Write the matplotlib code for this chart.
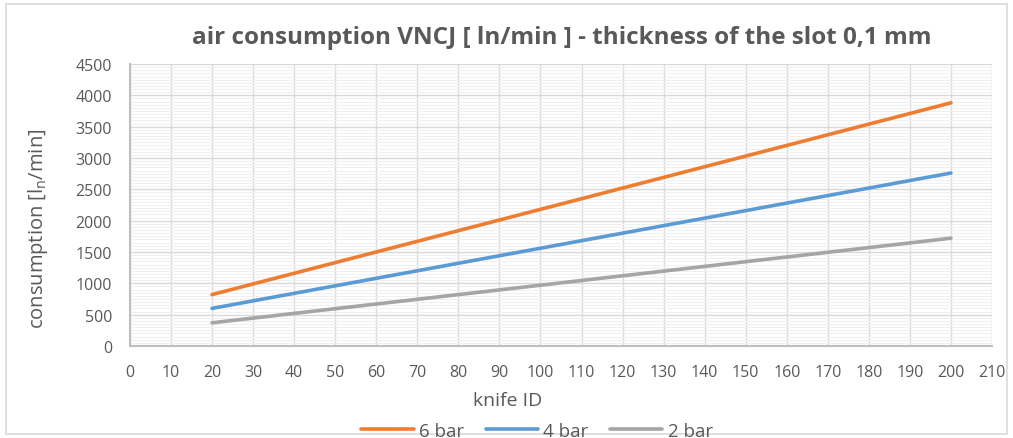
import matplotlib
matplotlib.use("Agg")
import matplotlib.pyplot as plt
from matplotlib.ticker import MultipleLocator
from matplotlib.patches import Rectangle

knife_id = [20, 30, 40, 50, 60, 70, 80, 90, 100, 110, 120, 130, 140, 150, 160, 170, 180, 190, 200]
bar6 = [820, 990, 1160, 1330, 1500, 1670, 1840, 2010, 2180, 2350, 2520, 2690, 2860, 3030, 3200, 3370, 3540, 3710, 3880]
bar4 = [600, 720, 840, 960, 1080, 1200, 1320, 1440, 1560, 1680, 1800, 1920, 2040, 2160, 2280, 2400, 2520, 2640, 2760]
bar2 = [370, 445, 520, 595, 670, 745, 820, 895, 970, 1045, 1120, 1195, 1270, 1345, 1420, 1495, 1570, 1645, 1720]
series_labels = ["6 bar", "4 bar", "2 bar"]
colors = ["#ED7D31", "#5B9BD5", "#A5A5A5"]
title = "air consumption VNCJ [ ln/min ] - thickness of the slot 0,1 mm"
ylabel = "consumption [l$_\\mathregular{n}$/min]"
xlabel = "knife ID"

plt.rcParams['font.family'] = ['Open Sans', 'DejaVu Sans']
txt = "#595959"

fig = plt.figure(figsize=(10.13, 4.39), dpi=100)
fig.patches.append(Rectangle((0.006, 0.01), 0.988, 0.978, transform=fig.transFigure,
                             fill=False, edgecolor="#d9d9d9", linewidth=1.2))
ax = fig.add_axes([0.1283, 0.2096, 0.8510, 0.6424])

for vals, lab, c in zip([bar6, bar4, bar2], series_labels, colors):
    ax.plot(knife_id, vals, color=c, linewidth=2.6, label=lab, solid_capstyle='round', zorder=3)

ax.set_xlim(0, 210)
ax.set_ylim(0, 4500)
ax.xaxis.set_major_locator(MultipleLocator(10))
ax.yaxis.set_major_locator(MultipleLocator(500))
ax.yaxis.set_minor_locator(MultipleLocator(50))
ax.grid(which='major', color="#d9d9d9", linewidth=1.0, zorder=1)
ax.grid(which='minor', axis='y', color="#f0f0f0", linewidth=0.8, zorder=0)
ax.tick_params(which='both', length=0, labelsize=11.5, colors=txt)
ax.tick_params(axis='y', pad=13)
ax.tick_params(axis='x', pad=13)
for s in ['top', 'right']:
    ax.spines[s].set_visible(False)
for s in ['left', 'bottom']:
    ax.spines[s].set_color("#bfbfbf")
    ax.spines[s].set_linewidth(1.5)

fig.text(508 / 1013, 1 - 401 / 439, xlabel, ha='center', va='center', fontsize=14, color=txt)
fig.text(38 / 1013, 1 - 229 / 439, ylabel, ha='center', va='center', rotation=90,
         fontsize=14.5, color=txt)
fig.text(562 / 1013, 1 - 38 / 439, title, ha='center', va='center', fontsize=17.5,
         fontweight='bold', color=txt)

leg = fig.legend(loc='center', bbox_to_anchor=(537 / 1013, 0.016), ncol=3, frameon=False,
                 fontsize=13.5, handlelength=2.8, handletextpad=0.27, columnspacing=1.15,
                 labelcolor=txt, borderpad=0)

fig.savefig("out.png", dpi=100)
